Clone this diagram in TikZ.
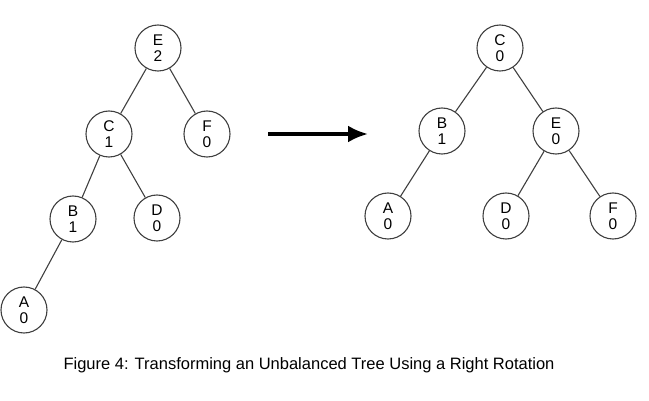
\documentclass[tikz,border=0pt]{standalone}
\usepackage{fontspec}
\setmainfont{Liberation Sans}
\usetikzlibrary{arrows.meta}
\tikzset{>=latex}
\colorlet{edge}{black!75}
\tikzset{
  avl/.style={circle,draw=edge,line width=1.1pt,minimum size=46pt,inner sep=0pt,
    align=center,font=\fontsize{15.5}{16}\selectfont},
  branch/.style={draw=edge,line width=1.1pt}
}

\begin{document}
\begin{tikzpicture}[x=1pt,y=-1pt]
  \useasboundingbox (0,0) rectangle (649,401);
  % unbalanced tree
  \node[avl] (e1) at (158,48) {E\\2};
  \node[avl] (c1) at (109,134) {C\\1};
  \node[avl] (f1) at (207,134) {F\\0};
  \node[avl] (b1) at (73,219) {B\\1};
  \node[avl] (d1) at (157,218) {D\\0};
  \node[avl] (a1) at (24,310) {A\\0};
  \draw[branch] (e1) -- (c1);
  \draw[branch] (e1) -- (f1);
  \draw[branch] (c1) -- (b1);
  \draw[branch] (c1) -- (d1);
  \draw[branch] (b1) -- (a1);
  % rotation arrow
  \coordinate (from) at (268,134);
  \coordinate (to) at (368,134);
  \draw[-{Latex[length=20pt,width=17pt]},line width=3.5pt] (from) -- (to);
  % balanced tree
  \node[avl] (c2) at (500,48) {C\\0};
  \node[avl] (b2) at (442,131) {B\\1};
  \node[avl] (e2) at (556,131) {E\\0};
  \node[avl] (a2) at (388,216) {A\\0};
  \node[avl] (d2) at (506,216) {D\\0};
  \node[avl] (f2) at (613,216) {F\\0};
  \draw[branch] (c2) -- (b2);
  \draw[branch] (c2) -- (e2);
  \draw[branch] (b2) -- (a2);
  \draw[branch] (e2) -- (d2);
  \draw[branch] (e2) -- (f2);
  % caption
  \node[font=\fontsize{16.5}{19}\selectfont] (caption) at (309,365)
    {Figure 4: Transforming an Unbalanced Tree Using a Right Rotation};
\end{tikzpicture}
\end{document}
